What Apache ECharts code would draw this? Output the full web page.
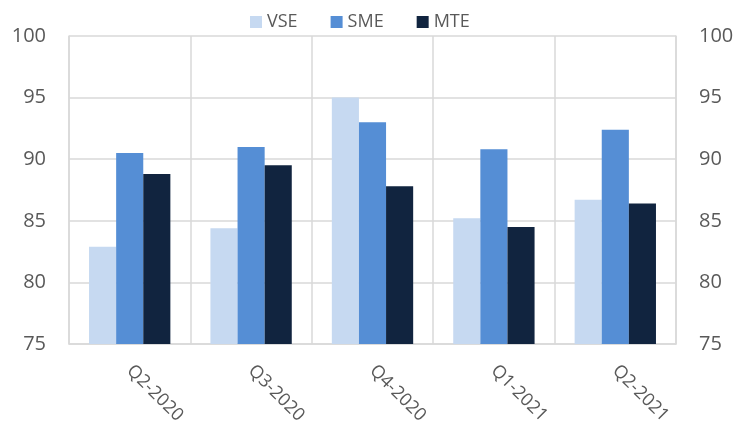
<!DOCTYPE html>
<html>
<head>
<meta charset="utf-8">
<script src="https://cdn.jsdelivr.net/npm/echarts@6/dist/echarts.min.js"></script>
<style>html,body{margin:0;padding:0;background:#fff;}#c{width:735px;height:421px;}</style>
</head>
<body>
<div id="c"></div>
<script>
const categories = ['Q2-2020', 'Q3-2020', 'Q4-2020', 'Q1-2021', 'Q2-2021'];
const seriesNames = ['VSE', 'SME', 'MTE'];
const vse = [82.9, 84.4, 95.0, 85.2, 86.7];
const sme = [90.5, 91.0, 93.0, 90.8, 92.4];
const mte = [88.8, 89.5, 87.8, 84.5, 86.4];
const colors = ['#C6D9F1', '#558ED5', '#11243F'];

const font = 'Open Sans';
const labelColor = '#595959';
const gridColor = '#D9D9D9';

const chart = echarts.init(document.getElementById('c'));
const yAxisBase = {
  type: 'value', min: 75, max: 100, interval: 5,
  axisLine: { show: true, lineStyle: { color: gridColor, width: 1.5 } },
  axisTick: { show: false },
  splitLine: { show: true, lineStyle: { color: gridColor, width: 1.5 } },
  axisLabel: { color: labelColor, fontFamily: font, fontSize: 20, margin: 23 }
};
chart.setOption({
  animation: false,
  color: colors,
  legend: {
    top: 8, left: 245, itemWidth: 12, itemHeight: 12, itemGap: 33,
    icon: 'rect',
    textStyle: { color: labelColor, fontFamily: font, fontSize: 18 },
    data: seriesNames
  },
  grid: { left: 69, right: 59, top: 36, bottom: 77, containLabel: false, outerBoundsMode: 'none' },
  xAxis: {
    type: 'category', data: categories,
    axisLine: { show: true, lineStyle: { color: gridColor, width: 1.5 } },
    axisTick: { show: false },
    splitLine: { show: true, lineStyle: { color: gridColor, width: 1.5 } },
    axisLabel: { color: labelColor, fontFamily: font, fontSize: 18, rotate: -45, margin: 24, interval: 0 }
  },
  yAxis: [
    Object.assign({}, yAxisBase, { position: 'left' }),
    Object.assign({}, yAxisBase, { position: 'right', splitLine: { show: false } })
  ],
  series: [
    { name: seriesNames[0], type: 'bar', data: vse, barGap: '0%', barCategoryGap: '33%' },
    { name: seriesNames[1], type: 'bar', data: sme, barGap: '0%', barCategoryGap: '33%' },
    { name: seriesNames[2], type: 'bar', data: mte, barGap: '0%', barCategoryGap: '33%' }
  ]
});
</script>
</body>
</html>
